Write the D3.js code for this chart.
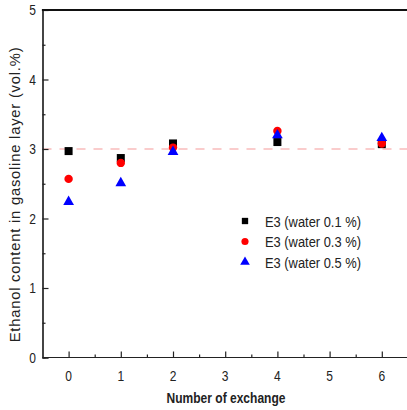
<!DOCTYPE html>
<html>
<head>
<meta charset="utf-8">
<script src="https://cdn.jsdelivr.net/npm/d3@7"></script>
<style>
  html, body { margin: 0; padding: 0; background: #fff; }
  svg { display: block; }
  text { font-family: "Liberation Sans", Arial, sans-serif; fill: #222; }
</style>
</head>
<body>
<svg id="chart" width="407" height="410"></svg>
<script>
// Exchange counts on the x axis
const exchanges = [0, 1, 2, 4, 6];

// Ethanol content (vol.%) for each water content
const water01 = [2.97, 2.87, 3.08, 3.10, 3.07];
const water03 = [2.57, 2.80, 3.02, 3.26, 3.08];
const water05 = [2.24, 2.51, 2.96, 3.20, 3.16];

const seriesNames = ["E3 (water 0.1 %)", "E3 (water 0.3 %)", "E3 (water 0.5 %)"];
const xTickValues = [0, 1, 2, 3, 4, 5, 6];
const yTickValues = [0, 1, 2, 3, 4, 5];
const referenceLevel = 3;

(function draw() {
  const svg = d3.select("#chart");
  const W = 407;
  const plotLeft = 42.5, plotTop = 10, plotBottom = 357.5;
  const narrow = 0.86; // horizontal squeeze for a condensed type look

  const x = d3.scaleLinear().domain([-0.5, 6.5]).range([plotLeft, plotLeft + 7 * 52.2]);
  const y = d3.scaleLinear().domain([0, 5]).range([plotBottom, plotTop]);

  // Places a condensed text label at (tx, ty)
  function condensedText(parent, tx, ty, str, size, anchor, weight) {
    return parent.append("text")
      .attr("transform", `translate(${tx},${ty}) scale(${narrow},1)`)
      .attr("text-anchor", anchor)
      .style("font-size", size + "px")
      .style("font-weight", weight || "normal")
      .text(str);
  }

  // Reference line at the target ethanol level
  svg.append("line")
    .attr("x1", plotLeft).attr("x2", W)
    .attr("y1", y(referenceLevel)).attr("y2", y(referenceLevel))
    .attr("stroke", "#e55").attr("stroke-width", 0.8).attr("stroke-opacity", 0.75)
    .attr("stroke-dasharray", "9,8");

  // Y axis: major ticks, minor ticks at halves
  const yAxis = svg.append("g").attr("transform", `translate(${plotLeft},0)`);
  yAxis.call(d3.axisLeft(y).tickValues(yTickValues).tickSize(-6).tickFormat(""));
  yAxis.append("g").call(d3.axisLeft(y).tickValues(d3.range(0.5, 5, 1)).tickSize(-3).tickFormat(""));
  yAxis.selectAll(".domain").attr("stroke", "#222").attr("stroke-width", 1.2);
  yAxis.selectAll(".tick line").attr("stroke", "#222").attr("stroke-width", 1.2);
  yTickValues.forEach(v => condensedText(svg, 36, y(v) + 5, d3.format("d")(v), 14, "end").attr("fill", "#333"));

  // X axis along the bottom
  const xAxis = svg.append("g").attr("transform", `translate(0,${plotBottom})`);
  xAxis.call(d3.axisBottom(x).tickValues(xTickValues).tickSize(-6).tickFormat(""));
  xAxis.append("g").call(d3.axisBottom(x).tickValues(d3.range(0.5, 6.6, 1)).tickSize(-3).tickFormat(""));
  xAxis.selectAll(".domain").remove();
  xAxis.append("line").attr("x1", plotLeft).attr("x2", W).attr("y1", 0).attr("y2", 0)
    .attr("stroke", "#222").attr("stroke-width", 1.2);
  xAxis.selectAll(".tick line").attr("stroke", "#222").attr("stroke-width", 1.2);
  xTickValues.forEach(v => condensedText(svg, x(v), plotBottom + 23, d3.format("d")(v), 14, "middle").attr("fill", "#333"));

  // Top frame line
  svg.append("line").attr("x1", plotLeft - 0.6).attr("x2", W).attr("y1", plotTop).attr("y2", plotTop)
    .attr("stroke", "#111").attr("stroke-width", 2);

  // Axis titles
  svg.append("text")
    .attr("transform", `translate(20,${(40 + 349) / 2}) rotate(-90) scale(0.95,1)`)
    .attr("text-anchor", "middle")
    .style("font-size", "15.5px")
    .style("letter-spacing", "0.85px")
    .text("Ethanol content in gasoline layer (vol.%)");

  condensedText(svg, 226, 403, "Number of exchange", 14, "middle", "bold");

  // Marker shapes per series
  const shapes = [d3.symbolSquare, d3.symbolCircle, d3.symbolTriangle];
  const sizes = [64, 56, 50];
  const colors = ["#000", "#f00", "#00f"];
  const allSeries = [water01, water03, water05];

  allSeries.forEach((vals, i) => {
    svg.append("g").selectAll("path")
      .data(vals)
      .join("path")
      .attr("d", d3.symbol().type(shapes[i]).size(sizes[i]))
      .attr("fill", colors[i])
      .attr("transform", (d, j) => `translate(${x(exchanges[j])},${y(d)})`);
  });

  // Legend
  const legend = svg.append("g");
  seriesNames.forEach((name, i) => {
    const ly = 221 + i * 20.5;
    legend.append("path")
      .attr("d", d3.symbol().type(shapes[i]).size(40))
      .attr("fill", colors[i])
      .attr("transform", `translate(245,${ly})`);
    condensedText(legend, 265, ly + 5.5, name, 15, "start");
  });
})();
</script>
</body>
</html>
